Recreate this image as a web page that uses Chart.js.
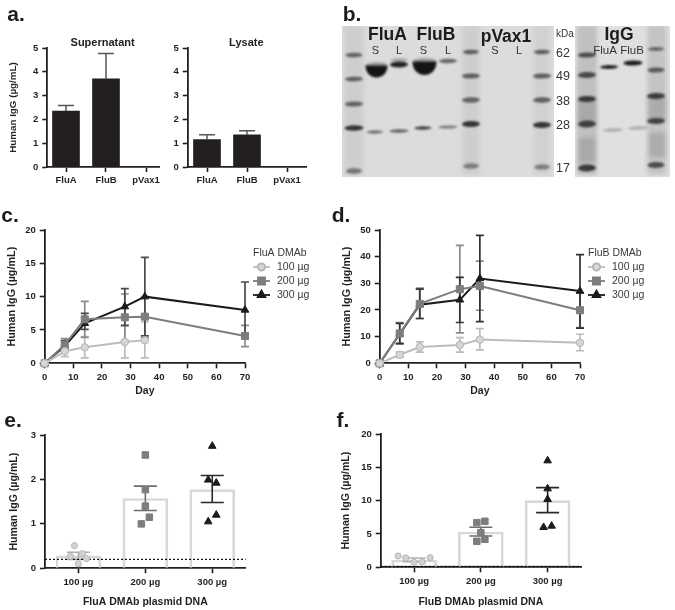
<!DOCTYPE html>
<html>
<head>
<meta charset="utf-8">
<script src="https://cdn.jsdelivr.net/npm/chart.js@4/dist/chart.umd.js"></script>
<style>
  html, body { margin: 0; padding: 0; background: #fff; }
  body { position: relative; width: 675px; height: 610px; overflow: hidden; }
  canvas { position: absolute; filter: blur(0.3px); }
  .txt { position: absolute; transform: translate(-50%, -50%); white-space: nowrap; font-family: "Liberation Sans", Arial, sans-serif; color: #222; filter: blur(0.3px); }
</style>
</head>
<body>
<script>
// panel a
const strains = ['FluA', 'FluB', 'pVax1'];
const supernatantMean = [2.35, 3.7, 0];
const supernatantUp = [2.58, 4.77, null];
const lysateMean = [1.15, 1.35, 0];
const lysateUp = [1.35, 1.52, null];

// panels c, d
const days = [0, 7, 14, 28, 35, 70];
const fluA100 = [0, 1.8, 2.4, 3.2, 3.45, null];
const fluA100Up = [null, 2.6, 4.0, 5.6, 6.2, null];
const fluA100Low = [null, 1.0, 0.8, 0.8, 0.8, null];
const fluA200 = [0, 2.8, 6.6, 6.9, 7.0, 4.1];
const fluA200Up = [null, 3.7, 9.3, 10.4, 10.0, 5.7];
const fluA200Low = [null, 1.9, 3.9, 3.4, 3.8, 2.5];
const fluA300 = [0, 2.6, 6.0, 8.5, 10.0, 8.0];
const fluA300Up = [null, 3.4, 7.5, 11.2, 15.9, 12.2];
const fluA300Low = [null, 1.8, 5.1, 5.7, 4.1, 3.9];

const fluB100 = [0, 3.2, 6.1, 6.9, 8.9, 7.7];
const fluB100Up = [null, 4.3, 8.0, 9.6, 13.0, 10.9];
const fluB100Low = [null, 2.2, 4.2, 4.2, 5.0, 4.7];
const fluB200 = [0, 11.2, 22.3, 27.8, 29.0, 19.9];
const fluB200Up = [null, 15.3, 28.2, 44.2, 38.3, 26.4];
const fluB200Low = [null, 7.2, 16.8, 11.4, 19.9, 13.4];
const fluB300 = [0, 11.0, 22.0, 23.8, 31.8, 27.1];
const fluB300Up = [null, 15.0, 27.8, 32.2, 48.0, 40.8];
const fluB300Low = [null, 7.5, 16.8, 15.3, 15.6, 13.2];

// panels e, f
const doses = ['100 µg', '200 µg', '300 µg'];
const fluAMean = [0.28, 1.57, 1.77];
const fluAUp = [0.36, 1.85, 2.09];
const fluALow = [0.2, 1.3, 1.48];
const fluADose100 = [0.51, 0.27, 0.33, 0.22, 0.10];
const fluADose200 = [2.55, 1.77, 1.40, 1.15, 1.00];
const fluADose300 = [2.75, 1.99, 1.92, 1.20, 1.05];
const fluACutoff = 0.2;

const fluBMean = [1.1, 5.3, 10];
const fluBUp = [1.4, 6.0, 11.95];
const fluBLow = [0.85, 4.7, 8.2];
const fluBDose100 = [1.7, 1.4, 1.45, 0.75, 0.8];
const fluBDose200 = [6.7, 6.9, 5.2, 4.2, 3.9];
const fluBDose300 = [16, 11.8, 10.2, 6.2, 6.0];
const fluBCutoff = 0.12;

// horizontal spread of the dots inside each column
const fluAJitter = [[-0.06, -0.12, 0.06, 0.12, 0], [0, 0, 0, 0.06, -0.06], [0, -0.06, 0.06, 0.06, -0.06]];
const fluBJitter = [[-0.24, -0.125, 0.24, 0, 0.12], [-0.06, 0.06, 0, 0.06, -0.06], [0, 0, 0, 0.06, -0.06]];

// panel b, gel text and bands
const kdaLabels = ['62', '49', '38', '28', '17'];
const gelLanes = ['S', 'L', 'S', 'L', 'S', 'L'];

const FONT = '"Liberation Sans", Arial, sans-serif';
Chart.defaults.font.family = FONT;
Chart.defaults.animation = false;
const INK = '#231f20';
const GREY1 = '#bdbdbd', GREY2 = '#7d7d7d', GREY3 = '#1c1a1b';

function addText(text, x, y, css) {
    const el = document.createElement('div');
    el.className = 'txt';
    el.textContent = text;
    el.style.left = x + 'px';
    el.style.top = y + 'px';
    el.style.cssText += css;
    document.body.appendChild(el);
}

function drawErrors(chart, meta, ds) {
    const ctx = chart.ctx;
    const cap = ds.errCap / 2;
    ctx.save();
    ctx.strokeStyle = ds.errColor;
    ctx.lineWidth = ds.errWidth || 1.5;
    ds.errUp.forEach((up, i) => {
        if (up === null) return;
        const raw = ds.data[i];
        const low = ds.errLow ? ds.errLow[i] : raw.y;
        const x = chart.scales.x.getPixelForValue(raw.x);
        const yUp = chart.scales.y.getPixelForValue(up);
        const yLow = chart.scales.y.getPixelForValue(low);
        ctx.beginPath();
        ctx.moveTo(x, yUp); ctx.lineTo(x, yLow);
        ctx.moveTo(x - cap, yUp); ctx.lineTo(x + cap, yUp);
        if (ds.errLow) { ctx.moveTo(x - cap, yLow); ctx.lineTo(x + cap, yLow); }
        ctx.stroke();
    });
    ctx.restore();
}

const errorBars = {
    id: 'errorBars',
    beforeDatasetsDraw(chart) {
        // line panels: whiskers sit under the markers
        chart.data.datasets.forEach((ds, i) => {
            if (ds.errUp && ds.type === 'line') drawErrors(chart, chart.getDatasetMeta(i), ds);
        });
    },
    afterDatasetDraw(chart, args) {
        const ds = chart.data.datasets[args.index];
        if (ds.errUp && ds.type === 'bar') drawErrors(chart, args.meta, ds);
    }
};

const doseLegend = {
    id: 'doseLegend',
    afterDraw(chart, args, opts) {
        if (!opts.title) return;
        const ctx = chart.ctx;
        ctx.save();
        ctx.textBaseline = 'middle';
        ctx.textAlign = 'left';
        ctx.font = '10.5px ' + FONT;
        ctx.fillStyle = '#3a3a3a';
        ctx.fillText(opts.title, opts.x, opts.y);
        chart.data.datasets.forEach((ds, i) => {
            const y = opts.y + 14 * (i + 1);
            ctx.strokeStyle = ds.borderColor;
            ctx.lineWidth = 1.8;
            ctx.beginPath();
            ctx.moveTo(opts.x, y); ctx.lineTo(opts.x + 17, y);
            ctx.stroke();
            ctx.fillStyle = ds.pointBackgroundColor;
            ctx.strokeStyle = ds.pointBorderColor;
            Chart.helpers.drawPoint(ctx, { pointStyle: ds.pointStyle, radius: ds.pointRadius, rotation: 0, borderWidth: 1 }, opts.x + 8.5, y);
            ctx.fillStyle = '#3a3a3a';
            ctx.fillText(ds.label, opts.x + 24, y);
        });
        ctx.restore();
    }
};

// box is the canvas on the page, plot the axes rectangle on the page
function yAxis(box, plot, max, step, title, size) {
    return {
        type: 'linear', position: 'left', min: 0, max: max,
        ticks: { stepSize: step, color: INK, padding: 4, font: { size: 9.5, weight: 'bold' } },
        grid: { drawOnChartArea: false, tickLength: 5, tickWidth: 1.6, tickColor: INK },
        border: { color: INK, width: 1.8 },
        title: { display: !!title, text: title, color: INK, padding: 0, font: { size: size, weight: 'bold' } },
        afterFit(s) { s.width = plot.l - box.x; s.paddingTop = 0; s.paddingBottom = 0; }
    };
}

function xAxis(box, plot, min, max, tickValues, tickText, title) {
    return {
        type: 'linear', position: 'bottom', min: min, max: max, offset: false,
        afterBuildTicks(s) { s.ticks = tickValues.map(v => ({ value: v })); },
        ticks: {
            autoSkip: false, maxRotation: 0, color: INK, padding: 3,
            font: { size: 9.5, weight: 'bold' },
            callback: v => tickText ? tickText[v] : v
        },
        grid: { drawOnChartArea: false, offset: false, tickLength: 5, tickWidth: 1.6, tickColor: INK },
        border: { color: INK, width: 1.8 },
        title: { display: !!title, text: title, color: INK, padding: 0, font: { size: 10.5, weight: 'bold' } },
        afterFit(s) { s.height = box.y + box.h - plot.b; s.paddingLeft = 0; s.paddingRight = 0; }
    };
}

function makeChart(box, plot, type, datasets, scales, pluginOpts) {
    const canvas = document.createElement('canvas');
    canvas.width = box.w;
    canvas.height = box.h;
    canvas.style.left = box.x + 'px';
    canvas.style.top = box.y + 'px';
    document.body.appendChild(canvas);
    return new Chart(canvas, {
        type: type,
        data: { datasets: datasets },
        options: {
            responsive: false,
            layout: { padding: { left: 0, top: plot.t - box.y, right: box.x + box.w - plot.r, bottom: 0 } },
            scales: scales,
            plugins: Object.assign({ legend: { display: false }, title: { display: false }, tooltip: { enabled: false } }, pluginOpts || {})
        },
        plugins: [errorBars, doseLegend]
    });
}

// ---- panel a
function strainBars(box, plot, mean, up, title, yTitle) {
    const unit = plot.unit;
    const pts = mean.map((v, i) => ({ x: i, y: v }));
    makeChart(box, plot, 'bar', [{
        type: 'bar', data: pts, backgroundColor: INK, barThickness: 27,
        errUp: up, errCap: 16, errColor: '#555', errWidth: 1.5
    }], {
        x: xAxis(box, plot, -(plot.zero - plot.l) / unit, (plot.r - plot.zero) / unit, [0, 1, 2], strains, ''),
        y: yAxis(box, plot, 5, 1, yTitle, 9.8)
    });
    addText(title, (plot.l + plot.r) / 2 - 0.5, 42, 'font-size:11px;font-weight:bold;');
}
const supBox = { x: 7, y: 35, w: 165, h: 155 };
strainBars(supBox, { l: 47.3, t: 48, r: 159, b: 167, zero: 66, unit: 40 }, supernatantMean, supernatantUp, 'Supernatant', 'Human IgG (µg/mL)');
const lysBox = { x: 165, y: 35, w: 150, h: 155 };
strainBars(lysBox, { l: 187.7, t: 48, r: 306, b: 167, zero: 207, unit: 40 }, lysateMean, lysateUp, 'Lysate', '');

// ---- panels c, d
function doseLine(label, values, up, low, color, style, radius, fill, edge, errColor, errCap) {
    return {
        type: 'line', label: label, data: values,
        borderColor: color, borderWidth: 2, tension: 0, spanGaps: false, clip: false,
        pointStyle: style, pointRadius: radius,
        pointBackgroundColor: fill, pointBorderColor: edge, pointBorderWidth: 1,
        errUp: up, errLow: low, errCap: errCap, errColor: errColor, errWidth: 1.7
    };
}
function toXY(values) { return values.map((v, i) => ({ x: days[i], y: v })); }

function timeCourse(box, plot, max, step, series, legendTitle) {
    const legendOpts = { title: legendTitle, x: plot.r + 8 - box.x, y: 253 - box.y };
    makeChart(box, plot, 'line', series, {
        x: xAxis(box, plot, 0, 70, [0, 10, 20, 30, 40, 50, 60, 70], null, 'Day'),
        y: yAxis(box, plot, max, step, 'Human IgG (µg/mL)', 10.8)
    }, { doseLegend: legendOpts });
}
const cBox = { x: 6, y: 222, w: 325, h: 175 };
timeCourse(cBox, { l: 44.7, t: 230, r: 245, b: 363.3 }, 20, 5, [
    doseLine('100 µg', toXY(fluA100), fluA100Up, fluA100Low, GREY1, 'circle', 3.7, '#d6d6d6', '#b4b4b4', '#bcbcbc', 8),
    doseLine('200 µg', toXY(fluA200), fluA200Up, fluA200Low, GREY2, 'rect', 5, GREY2, GREY2, '#8a8a8a', 8),
    doseLine('300 µg', toXY(fluA300), fluA300Up, fluA300Low, GREY3, 'triangle', 4.4, GREY3, GREY3, '#4a4a4a', 8)
], 'FluA DMAb');
const dBox = { x: 341, y: 222, w: 325, h: 175 };
timeCourse(dBox, { l: 379.7, t: 230, r: 580, b: 363.3 }, 50, 10, [
    doseLine('100 µg', toXY(fluB100), fluB100Up, fluB100Low, GREY1, 'circle', 3.7, '#d6d6d6', '#b4b4b4', '#bcbcbc', 8),
    doseLine('200 µg', toXY(fluB200), fluB200Up, fluB200Low, GREY2, 'rect', 5, GREY2, GREY2, '#8a8a8a', 8),
    doseLine('300 µg', toXY(fluB300), fluB300Up, fluB300Low, GREY3, 'triangle', 4.4, GREY3, GREY3, '#333', 8)
], 'FluB DMAb');

// ---- panels e, f
function dots(col, values, jitter, color, style, radius) {
    return {
        type: 'scatter', order: 1, showLine: false, clip: false,
        data: values.map((v, i) => ({ x: col + jitter[col][i], y: v })),
        pointStyle: style, pointRadius: radius,
        pointBackgroundColor: color.fill, pointBorderColor: color.edge, pointBorderWidth: 1
    };
}
function plasmidPanel(box, plot, max, step, mean, up, low, groups, jitter, cutoff, xTitle) {
    const errColors = ['#b0b0b0', '#6e6e6e', '#2a2a2a'];
    const bars = mean.map((v, i) => ({
        type: 'bar', order: 3, grouped: false, data: [{ x: i, y: v }],
        backgroundColor: 'rgba(0,0,0,0)', borderColor: '#d8d8d8', borderWidth: 2, borderSkipped: 'bottom', barThickness: 45,
        errUp: [up[i]], errLow: [low[i]], errCap: 23, errColor: errColors[i], errWidth: 1.6
    }));
    const marks = [
        dots(0, groups[0], jitter, { fill: '#d2d2d2', edge: '#b8b8b8' }, 'circle', 3.1),
        dots(1, groups[1], jitter, { fill: '#7d7d7d', edge: '#7d7d7d' }, 'rect', 4.6),
        dots(2, groups[2], jitter, { fill: GREY3, edge: GREY3 }, 'triangle', 4.4)
    ];
    const cut = {
        type: 'line', order: 2, data: [{ x: -0.5, y: cutoff }, { x: 2.5, y: cutoff }],
        borderColor: '#111', borderWidth: 1.4, borderDash: [2, 2], pointRadius: 0, clip: false
    };
    makeChart(box, plot, 'bar', bars.concat([cut], marks), {
        x: xAxis(box, plot, -0.5, 2.5, [0, 1, 2], doses, xTitle),
        y: yAxis(box, plot, max, step, 'Human IgG (µg/mL)', 10.6)
    });
}
const eBox = { x: 8, y: 428, w: 250, h: 180 };
plasmidPanel(eBox, { l: 45, t: 435, r: 245.7, b: 568.3 }, 3, 1, fluAMean, fluAUp, fluALow,
    [fluADose100, fluADose200, fluADose300], fluAJitter, fluACutoff, 'FluA DMAb plasmid DNA');
const fBox = { x: 340, y: 427, w: 255, h: 181 };
plasmidPanel(fBox, { l: 380.7, t: 434, r: 581, b: 567.3 }, 20, 5, fluBMean, fluBUp, fluBLow,
    [fluBDose100, fluBDose200, fluBDose300], fluBJitter, fluBCutoff, 'FluB DMAb plasmid DNA');

// ---- panel b, the blot, hidden scales in page pixels
const gelSheets = [[342, 26, 212, 151, '#dcdcdc'], [575, 26, 95, 151, '#e0e0e0']];
// lane smears: x, y, width, height, darkness
const gelSmears = [
    [354, 100, 19, 150, .07], [471, 100, 17, 150, .07], [542, 100, 17, 150, .05],
    [587, 100, 20, 150, .16], [657, 100, 19, 150, .14],
    [587, 112, 19, 28, .14], [657, 108, 19, 26, .14], [587, 150, 17, 24, .14], [657, 145, 17, 24, .14]
];
// x, y, width, height, darkness
const gelBands = [
    [354, 55, 17, 4.5, .6], [354, 79, 18, 4.5, .62], [354, 104, 18, 5, .6], [354, 128, 19, 5.5, .85], [354, 171, 16, 5.5, .5],
    [471, 52, 16, 4.5, .62], [471, 76, 18, 5, .62], [471, 100, 18, 5.5, .6], [471, 124, 18, 6, .85], [471, 166, 16, 5.5, .45],
    [542, 52, 16, 4.5, .62], [542, 76, 18, 5, .62], [542, 100, 18, 5.5, .62], [542, 125, 18, 6, .85], [542, 167, 16, 5.5, .45],
    [587, 55, 18, 5, .7], [587, 75, 18, 6, .72], [587, 99, 18, 6, .8], [587, 124, 18, 7, .75], [587, 168, 18, 7, .8],
    [656, 49, 16, 4, .55], [656, 70, 17, 5, .62], [656, 96, 18, 6, .78], [656, 121, 18, 6, .75], [656, 165, 17, 6, .7],
    [375, 132, 16, 3.5, .55], [399, 131, 19, 3.5, .62], [423, 128, 17, 3.5, .8], [448, 127, 19, 3, .5],
    [399, 64.5, 18, 6, .95], [399, 60, 17, 4, .25], [448, 61, 18, 4.5, .6], [424.5, 61, 23, 6, .3], [376.5, 65, 21, 6, .3],
    [609, 67, 18, 4, .95], [633, 63, 19, 5, .98],
    [613, 130, 20, 3.5, .25], [638, 128, 20, 3.5, .25]
];
// the two heavy supernatant bands bow downward
const gelSmiles = [[376.5, 72, 22, 13], [424.5, 69, 24, 15]];

const gelPainter = {
    id: 'gelPainter',
    afterDatasetsDraw(chart) {
        const ctx = chart.ctx, sx = chart.scales.x, sy = chart.scales.y;
        ctx.save();
        gelSheets.forEach(s => {
            ctx.fillStyle = s[4];
            ctx.fillRect(sx.getPixelForValue(s[0]), sy.getPixelForValue(s[1]), s[2], s[3]);
        });
        // keep the blurred lanes inside the two membranes
        ctx.beginPath();
        gelSheets.forEach(s => ctx.rect(sx.getPixelForValue(s[0]), sy.getPixelForValue(s[1]), s[2], s[3]));
        ctx.clip();
        ctx.filter = 'blur(2px)';
        gelSmears.forEach(b => {
            ctx.fillStyle = 'rgba(25,25,25,' + b[4] + ')';
            ctx.fillRect(sx.getPixelForValue(b[0]) - b[2] / 2, sy.getPixelForValue(b[1]) - b[3] / 2, b[2], b[3]);
        });
        ctx.filter = 'blur(0.9px)';
        gelBands.forEach(b => {
            ctx.fillStyle = 'rgba(25,25,25,' + b[4] + ')';
            ctx.beginPath();
            ctx.ellipse(sx.getPixelForValue(b[0]), sy.getPixelForValue(b[1]), b[2] / 2, b[3] / 2, -0.02, 0, Math.PI * 2);
            ctx.fill();
        });
        gelSmiles.forEach(b => {
            const x = sx.getPixelForValue(b[0]), y = sy.getPixelForValue(b[1]);
            const w = b[2] / 2, h = b[3] / 2;
            ctx.fillStyle = '#141414';
            ctx.beginPath();
            ctx.moveTo(x - w, y - h);
            ctx.lineTo(x + w, y - h);
            ctx.bezierCurveTo(x + w, y + h + 3, x - w, y + h + 3, x - w, y - h);
            ctx.fill();
        });
        ctx.restore();
    }
};
(function () {
    const canvas = document.createElement('canvas');
    canvas.width = 340;
    canvas.height = 195;
    canvas.style.left = '335px';
    canvas.style.top = '0px';
    document.body.appendChild(canvas);
    new Chart(canvas, {
        type: 'scatter',
        data: { datasets: [{ data: [] }] },
        options: {
            responsive: false,
            layout: { padding: 0 },
            scales: {
                x: { type: 'linear', display: false, min: 335, max: 675 },
                y: { type: 'linear', display: false, min: 0, max: 195, reverse: true }
            },
            plugins: { legend: { display: false }, tooltip: { enabled: false } }
        },
        plugins: [gelPainter]
    });
})();

const heading = 'font-size:17.5px;font-weight:bold;color:#1c1c1c;';
addText('FluA', 387.5, 34, heading);
addText('FluB', 436, 34, heading);
addText('pVax1', 506, 36, heading);
addText('IgG', 619, 34, heading);
[375.5, 399, 423.5, 448, 495, 519].forEach((x, i) => addText(gelLanes[i], x, 49.5, 'font-size:11px;color:#333;'));
addText('FluA', 605, 50, 'font-size:11.5px;color:#333;');
addText('FluB', 632, 50, 'font-size:11.5px;color:#333;');
addText('kDa', 565, 33, 'font-size:10px;color:#333;');
[53, 76, 101, 125, 168].forEach((y, i) => addText(kdaLabels[i], 563, y, 'font-size:12.5px;color:#333;'));

// panel letters
const letter = 'font-size:21px;font-weight:bold;color:#1c1c1c;';
addText('a.', 16, 14, letter);
addText('b.', 352, 14, letter);
addText('c.', 10, 215, letter);
addText('d.', 341, 215, letter);
addText('e.', 13, 420, letter);
addText('f.', 343, 420, letter);
</script>
</body>
</html>
